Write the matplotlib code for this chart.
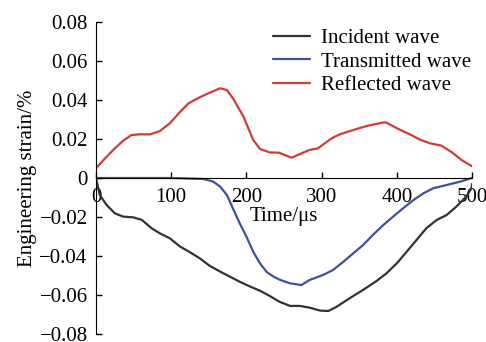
import matplotlib.pyplot as plt

# strain curves (time in us, strain in %)
t_inc = [0, 5, 14, 25, 36, 50, 61, 74, 85, 98, 112, 125, 138, 151, 165, 178,
         191, 205, 218, 231, 244, 258, 271, 284, 298, 309, 320, 337, 355, 373,
         386, 400, 413, 426, 439, 453, 466, 479, 492, 499, 500]
e_inc = [0, -0.0087, -0.0138, -0.0181, -0.0198, -0.0202, -0.0215, -0.0258,
         -0.0284, -0.0309, -0.0352, -0.0381, -0.0412, -0.0450, -0.0480,
         -0.0506, -0.0532, -0.0557, -0.0578, -0.0605, -0.0635, -0.0656,
         -0.0656, -0.0665, -0.0680, -0.0682, -0.0660, -0.0617, -0.0574,
         -0.0528, -0.0489, -0.0437, -0.0378, -0.0318, -0.0258, -0.0215,
         -0.0190, -0.0147, -0.0096, -0.0053, -0.003]

t_tra = [0, 100, 143, 156, 165, 174, 182, 191, 200, 209, 218, 227, 236, 245,
         258, 273, 284, 302, 315, 329, 342, 355, 368, 382, 395, 408, 422, 435,
         448, 466, 484, 497, 500]
e_tra = [0, 0, -0.0005, -0.0019, -0.0044, -0.0087, -0.0156, -0.0232, -0.0301,
         -0.0378, -0.0438, -0.0482, -0.0506, -0.0523, -0.0540, -0.0549,
         -0.0523, -0.0497, -0.0472, -0.0429, -0.0386, -0.0344, -0.0292,
         -0.0241, -0.0198, -0.0156, -0.0113, -0.0079, -0.0053, -0.0036,
         -0.0019, -0.0003, 0]

t_ref = [0, 10, 23, 36, 47, 58, 72, 85, 98, 112, 123, 138, 151, 165, 174, 182,
         196, 209, 218, 231, 243, 260, 273, 284, 295, 313, 324, 342, 360, 382,
         386, 400, 417, 430, 444, 459, 473, 486, 500]
e_ref = [0.005, 0.0092, 0.0144, 0.0191, 0.0220, 0.0224, 0.0224, 0.0241,
         0.0280, 0.0340, 0.0383, 0.0414, 0.0437, 0.0460, 0.0451, 0.0409,
         0.0315, 0.0195, 0.0149, 0.0131, 0.0130, 0.0104, 0.0126, 0.0144,
         0.0152, 0.0203, 0.0224, 0.0246, 0.0267, 0.0285, 0.0284, 0.0255,
         0.0224, 0.0198, 0.0178, 0.0166, 0.0132, 0.0092, 0.0060]

x_ticks = [0, 100, 200, 300, 400, 500]
y_ticks = [-0.08, -0.06, -0.04, -0.02, 0, 0.02, 0.04, 0.06, 0.08]
y_labels = ['\u22120.08', '\u22120.06', '\u22120.04', '\u22120.02', '0',
            '0.02', '0.04', '0.06', '0.08']

plt.rcParams['font.family'] = ['Liberation Serif', 'DejaVu Serif']
plt.rcParams['font.size'] = 15

fig = plt.figure(figsize=(4.86, 3.42), dpi=100)
ax = fig.add_axes([0.1975, 0.0234, 0.774, 0.9123])

style = dict(lw=1.6, solid_joinstyle='round', solid_capstyle='round')
ax.plot(t_inc, e_inc, color='#333333', label='Incident wave', **style)
ax.plot(t_tra, e_tra, color='#3f51a0', label='Transmitted wave', **style)
ax.plot(t_ref, e_ref, color='#d43a3a', label='Reflected wave', **style)

ax.set_xlim(0, 500)
ax.set_ylim(-0.08, 0.08)
ax.set_xticks(x_ticks)
ax.set_yticks(y_ticks)
ax.set_yticklabels(y_labels)

ax.spines['top'].set_visible(False)
ax.spines['right'].set_visible(False)
ax.spines['bottom'].set_position(('data', 0))
ax.tick_params(axis='both', direction='in', length=4, width=1)
ax.tick_params(axis='x', pad=7)
ax.tick_params(axis='y', pad=6)

ax.text(250, -0.0195, 'Time/\u03bcs', ha='center', va='center')
ax.set_ylabel('Engineering strain/%', labelpad=2)

ax.legend(loc='upper right', bbox_to_anchor=(1.03, 1.02), frameon=False,
          handlelength=1.8, handletextpad=0.5, labelspacing=0.2,
          borderaxespad=0.2)

fig.savefig('out.png', dpi=100)
